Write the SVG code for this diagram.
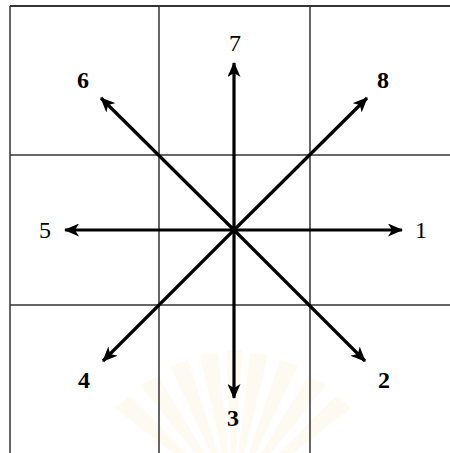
<svg xmlns="http://www.w3.org/2000/svg" width="450" height="453" viewBox="0 0 450 453">
<style>
.grid{stroke:#333;stroke-width:1.5;fill:none}
.arr{stroke:#000;stroke-width:3.2;fill:none;marker-end:url(#ah)}
.lbl{font-family:"Liberation Serif","Times New Roman",serif;font-size:24px;fill:#000;text-anchor:middle}
.b{font-weight:bold}
.ray{fill:#fdfaf1}
</style>
<defs>
<marker id="ah" viewBox="0 0 15 13" refX="14" refY="6.5" markerWidth="15" markerHeight="13" markerUnits="userSpaceOnUse" orient="auto">
<path d="M0,0 L15,6.5 L0,13 L4,6.5 z" fill="#000"/>
</marker>
</defs>
<rect width="450" height="453" fill="#fff"/>
<g id="watermark">
<path class="ray" d="M233,500 L140,385 L158,376 Z"/>
<path class="ray" d="M233,500 L170,366 L188,360 Z"/>
<path class="ray" d="M233,500 L200,355 L218,353 Z"/>
<path class="ray" d="M233,500 L226,350 L242,350 Z"/>
<path class="ray" d="M233,500 L250,353 L268,355 Z"/>
<path class="ray" d="M233,500 L280,360 L298,366 Z"/>
<path class="ray" d="M233,500 L308,376 L326,385 Z"/>
<path class="ray" d="M233,500 L115,408 L130,396 Z"/>
<path class="ray" d="M233,500 L336,396 L351,408 Z"/>
</g>
<g id="grid">
<line class="grid" x1="10" y1="6" x2="450" y2="6" style="stroke-width:2"/>
<line class="grid" x1="10" y1="6" x2="10" y2="453"/>
<line class="grid" x1="159" y1="6" x2="159" y2="453"/>
<line class="grid" x1="310" y1="6" x2="310" y2="453"/>
<line class="grid" x1="10" y1="155" x2="450" y2="155"/>
<line class="grid" x1="10" y1="305" x2="450" y2="305"/>
</g>
<g id="connectors">
<line class="arr" x1="234" y1="230" x2="402" y2="230"/>
<line class="arr" x1="234" y1="230" x2="365" y2="361"/>
<line class="arr" x1="234" y1="230" x2="234" y2="398"/>
<line class="arr" x1="234" y1="230" x2="103" y2="361"/>
<line class="arr" x1="234" y1="230" x2="65" y2="230"/>
<line class="arr" x1="234" y1="230" x2="101" y2="98"/>
<line class="arr" x1="234" y1="230" x2="234" y2="63"/>
<line class="arr" x1="234" y1="230" x2="367" y2="98"/>
</g>
<g id="n1"><text class="lbl" x="421" y="238">1</text></g>
<g id="n2"><text class="lbl b" x="384" y="388">2</text></g>
<g id="n3"><text class="lbl b" x="233" y="426">3</text></g>
<g id="n4"><text class="lbl b" x="84" y="388">4</text></g>
<g id="n5"><text class="lbl" x="45" y="238">5</text></g>
<g id="n6"><text class="lbl b" x="83" y="88">6</text></g>
<g id="n7"><text class="lbl" x="235" y="51">7</text></g>
<g id="n8"><text class="lbl b" x="383" y="88">8</text></g>
</svg>
